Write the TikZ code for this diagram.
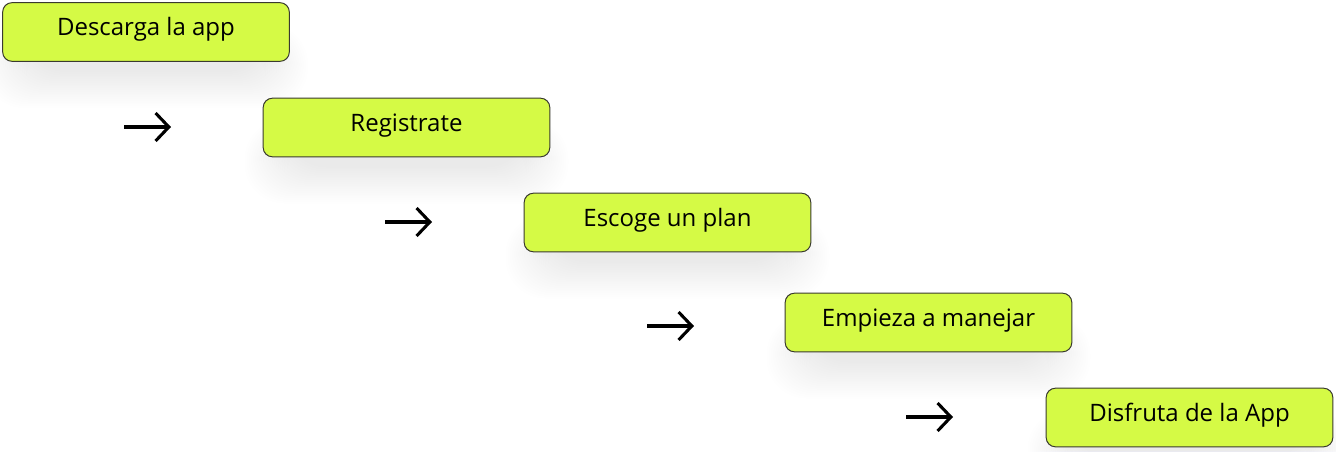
\documentclass[tikz,border=0pt]{standalone}
\usepackage{fontspec}
\setmainfont{Open Sans}
\usetikzlibrary{arrows.meta}
\definecolor{lime}{HTML}{D5FA45}
\definecolor{edge}{HTML}{3A3A30}
\tikzset{
  stepbox/.style={draw=edge, line width=0.75pt, fill=lime, rounded corners=7pt,
    minimum width=215pt, minimum height=44pt, inner sep=0pt},
  lbl/.style={anchor=base, inner sep=0pt, font=\fontsize{18}{22}\selectfont, text=black},
  arr/.style={line width=2.3pt, -{Straight Barb[length=10pt, width=21pt, line width=2.3pt]}},
}
\begin{document}
\begin{tikzpicture}[x=0.75pt, y=-0.75pt]
\useasboundingbox (0,0) rectangle (1336,451);
\fill[white] (0,0) rectangle (1336,451);
% soft shadows
\foreach \cx/\cy in {146/32, 406.5/127.5, 667.5/222.5, 928.5/322.5, 1189.5/417.5}{
  \foreach \g in {0,3,...,60}{
    \fill[black!70!blue, opacity=0.002, rounded corners=30pt]
      (\cx-120-\g*0.7, \cy+10-\g*0.3) rectangle (\cx+120+\g*0.7, \cy+40+\g*0.6);
  }
}
\node[stepbox] (b1) at (146,32) {};
\node[stepbox] (b2) at (406.5,127.5) {};
\node[stepbox] (b3) at (667.5,222.5) {};
\node[stepbox] (b4) at (928.5,322.5) {};
\node[stepbox] (b5) at (1189.5,417.5) {};
\node[lbl] (t1) at (146,35.5) {Descarga la app};
\node[lbl] (t2) at (406.5,131) {Registrate};
\node[lbl] (t3) at (667.5,226) {Escoge un plan};
\node[lbl] (t4) at (928.5,326) {Empieza a manejar};
\node[lbl] (t5) at (1189.5,421) {Disfruta de la App};
\coordinate (a1s) at (124,127); \coordinate (a1e) at (171,127);
\coordinate (a2s) at (385,222); \coordinate (a2e) at (432,222);
\coordinate (a3s) at (647,326); \coordinate (a3e) at (694,326);
\coordinate (a4s) at (906,417); \coordinate (a4e) at (953,417);
\draw[arr] (a1s) -- (a1e);
\draw[arr] (a2s) -- (a2e);
\draw[arr] (a3s) -- (a3e);
\draw[arr] (a4s) -- (a4e);
\end{tikzpicture}
\end{document}
